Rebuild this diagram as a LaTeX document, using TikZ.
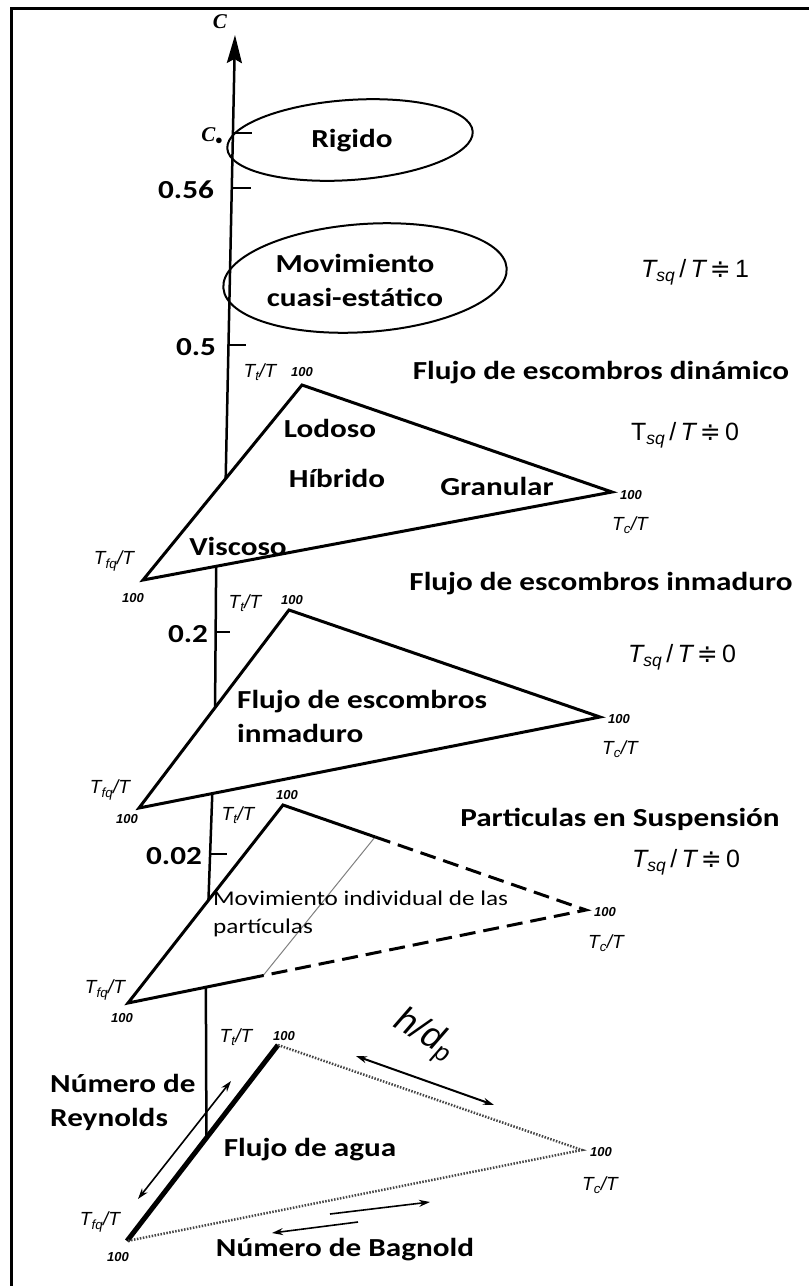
\documentclass[tikz,border=0pt]{standalone}
\usepackage{fontspec}
\usetikzlibrary{arrows.meta,calc}
\newfontfamily\lblfont[FakeStretch=1.2]{Carlito}
\newfontfamily\vfont{Liberation Sans}
\newfontfamily\symf{DejaVu Sans}
\newfontfamily\cfont{Liberation Serif}
\newcommand\Tsq[2]{{\vfont\fontsize{25}{28}\selectfont {#1}\textsubscript{\itshape sq}\,/\,{\itshape T}\,{\symf ≑}\,{\upshape #2}}}
\begin{document}
\begin{tikzpicture}[x=1pt,y=-1pt,
  lbl/.style={font=\lblfont\bfseries\fontsize{26}{34}\selectfont, inner sep=0pt},
  sml/.style={font=\lblfont\fontsize{21}{28}\selectfont, inner sep=0pt},
  vlab/.style={font=\vfont\itshape\fontsize{19}{20}\selectfont, inner sep=0pt},
  hlab/.style={font=\vfont\bfseries\itshape\fontsize{13}{14}\selectfont, inner sep=0pt},
  rlab/.style={inner sep=0pt},
  edge/.style={line width=3pt, line join=miter},
  axisln/.style={line width=2.5pt},
  dots/.style={line width=2.5pt, gray!55!black, dash pattern=on 1.5pt off 1.5pt},
  dsh/.style={line width=3pt, dash pattern=on 16pt off 8pt},
  dbl/.style={line width=1.6pt, {Stealth[length=11pt,width=7pt]}-{Stealth[length=11pt,width=7pt]}},
  sgl/.style={line width=1.6pt, -{Stealth[length=11pt,width=7pt]}}
]
\useasboundingbox (0,0) rectangle (809,1286);
\fill[white] (0,0) rectangle (809,1286);
\draw[line width=3pt] (11.5,1292) -- (11.5,8.5) -- (815,8.5);

% triangle vertices
\coordinate (t1) at (302,385); \coordinate (r1) at (612,492); \coordinate (l1) at (143,580);
\coordinate (t2) at (289,610); \coordinate (r2) at (600,717); \coordinate (l2) at (139,808);
\coordinate (t3) at (283,805); \coordinate (r3) at (586,910); \coordinate (l3) at (128,1003);
\coordinate (t4) at (278,1045); \coordinate (r4) at (582,1150); \coordinate (l4) at (127,1241);

% axis
\coordinate (ctop) at (235,35);
\coordinate (a1b) at ($(l1)!0.52!(t1)$);
\coordinate (a2t) at ($(l1)!0.156!(r1)$);
\coordinate (a2b) at ($(l2)!0.507!(t2)$);
\coordinate (a3t) at ($(l2)!0.159!(r2)$);
\coordinate (a3b) at ($(l3)!0.519!(t3)$);
\coordinate (a4t) at ($(l3)!0.17!(r3)$);
\coordinate (a4b) at ($(l4)!0.526!(t4)$);
\draw[axisln, -{Stealth[length=28pt,width=15pt,inset=4pt]}] (a1b) -- (ctop);
\draw[axisln] (a2t) -- (a2b);
\draw[axisln] (a3t) -- (a3b);
\draw[axisln] (a4t) -- (a4b);

% ticks
\draw[axisln] (233,133) -- (252,133);
\draw[axisln] (232,188) -- (251,188);
\draw[axisln] (228,345) -- (246,345);
\draw[axisln] (216,632) -- (230,632);
\draw[axisln] (210,854) -- (227,854);
\node[font=\cfont\bfseries\itshape\fontsize{21}{21}\selectfont, inner sep=0pt] (clab) at (220,22) {C};
\node[font=\cfont\bfseries\itshape\fontsize{21}{21}\selectfont, inner sep=0pt] (cstar) at (212,136) {C\raisebox{-3pt}{\scalebox{0.7}{$\bullet$}}};
\node[lbl] (v056) at (186,190) {0.56};
\node[lbl] (v05) at (196,347) {0.5};
\node[lbl] (v02) at (188,634) {0.2};
\node[lbl] (v002) at (174,856) {0.02};

% ellipses
\draw[line width=2pt, rotate around={4:(350,140)}] (350,140) ellipse [x radius=123pt, y radius=40pt];
\draw[line width=2pt, rotate around={4:(365,278)}] (365,278) ellipse [x radius=142pt, y radius=54pt];
\node[lbl] (rig) at (352,141) {Rigido};
\node[lbl, align=center] (mov) at (355,280) {Movimiento\\cuasi-estático};

% triangle 1
\draw[edge] (t1) -- (r1) -- (l1) -- cycle;
\node[lbl] (lod) at (330,428) {Lodoso};
\node[lbl] (hib) at (337,478) {Híbrido};
\node[lbl] (gra) at (497,486) {Granular};
\node[lbl] (vis) at (238,546) {Viscoso};
\node[vlab] (t1a) at (260,372) {T\textsubscript{t}/T};
\node[hlab] (t1b) at (302,372) {100};
\node[hlab, anchor=west] (r1a) at (620,495) {100};
\node[vlab] (r1b) at (630,525) {T\textsubscript{c}/T};
\node[vlab] (l1a) at (114,561) {T\textsubscript{fq}/T};
\node[hlab] (l1b) at (133,598) {100};

% triangle 2
\draw[edge] (t2) -- (r2) -- (l2) -- cycle;
\node[lbl, align=left, anchor=west] (fei) at (237,716) {Flujo de escombros\\inmaduro};
\node[vlab] (t2a) at (245,603) {T\textsubscript{t}/T};
\node[hlab] (t2b) at (292,600) {100};
\node[hlab, anchor=west] (r2a) at (608,719) {100};
\node[vlab] (r2b) at (620,749) {T\textsubscript{c}/T};
\node[vlab] (l2a) at (110,790) {T\textsubscript{fq}/T};
\node[hlab] (l2b) at (127,819) {100};

% triangle 3
\coordinate (b1) at ($(t3)!0.304!(r3)$);
\coordinate (b2) at ($(l3)!0.295!(r3)$);
\draw[line width=1pt, gray] (b1) -- (b2);
\draw[edge] (b2) -- (l3) -- (t3) -- (b1);
\draw[dsh] (b1) -- (r3) -- (b2);
\node[sml, align=left, anchor=west] (mip) at (213,914) {Movimiento individual de las\\partículas};
\node[vlab] (t3a) at (238,815) {T\textsubscript{t}/T};
\node[hlab] (t3b) at (287,795) {100};
\node[hlab, anchor=west] (r3a) at (594,912) {100};
\node[vlab] (r3b) at (606,943) {T\textsubscript{c}/T};
\node[vlab] (l3a) at (105,990) {T\textsubscript{fq}/T};
\node[hlab] (l3b) at (122,1018) {100};

% triangle 4
\draw[line width=5pt] (l4) -- (t4);
\draw[dots] (t4) -- (r4) -- (l4);
\node[lbl] (fag) at (310,1150) {Flujo de agua};
\node[vlab] (t4a) at (236,1037) {T\textsubscript{t}/T};
\node[hlab] (t4b) at (284,1036) {100};
\node[hlab, anchor=west] (r4a) at (590,1152) {100};
\node[vlab] (r4b) at (600,1185) {T\textsubscript{c}/T};
\node[vlab] (l4a) at (100,1222) {T\textsubscript{fq}/T};
\node[hlab] (l4b) at (118,1257) {100};

% arrows
\coordinate (rey1) at (138,1199); \coordinate (rey2) at (231,1081);
\draw[dbl] (rey1) -- (rey2);
\coordinate (hd1) at (356,1056); \coordinate (hd2) at (494,1105);
\draw[dbl, line width=2pt] (hd1) -- (hd2);
\node[font=\vfont\itshape\fontsize{36}{36}\selectfont, rotate=-30, inner sep=0pt] (hdp) at (424,1036) {h/d\textsubscript{p}};
\coordinate (bg1) at (330,1214); \coordinate (bg2) at (430,1202);
\coordinate (bg3) at (358,1222); \coordinate (bg4) at (272,1233);
\draw[sgl] (bg1) -- (bg2);
\draw[sgl] (bg3) -- (bg4);
\node[lbl, align=left, anchor=west] (rey) at (50,1102) {Número de\\Reynolds};
\node[lbl] (bag) at (345,1250) {Número de Bagnold};

% right labels
\node[rlab] (q1) at (695,272) {\Tsq{\itshape T}{1}};
\node[lbl] (fed) at (601,373) {Flujo de escombros dinámico};
\node[rlab] (q2) at (685,435) {\Tsq{T}{0}};
\node[lbl] (fei2) at (601,584) {Flujo de escombros inmaduro};
\node[rlab] (q3) at (682,657) {\Tsq{\itshape T}{0}};
\node[lbl] (pes) at (620,819) {Particulas en Suspensión};
\node[rlab] (q4) at (686,862) {\Tsq{\itshape T}{0}};
\end{tikzpicture}
\end{document}
